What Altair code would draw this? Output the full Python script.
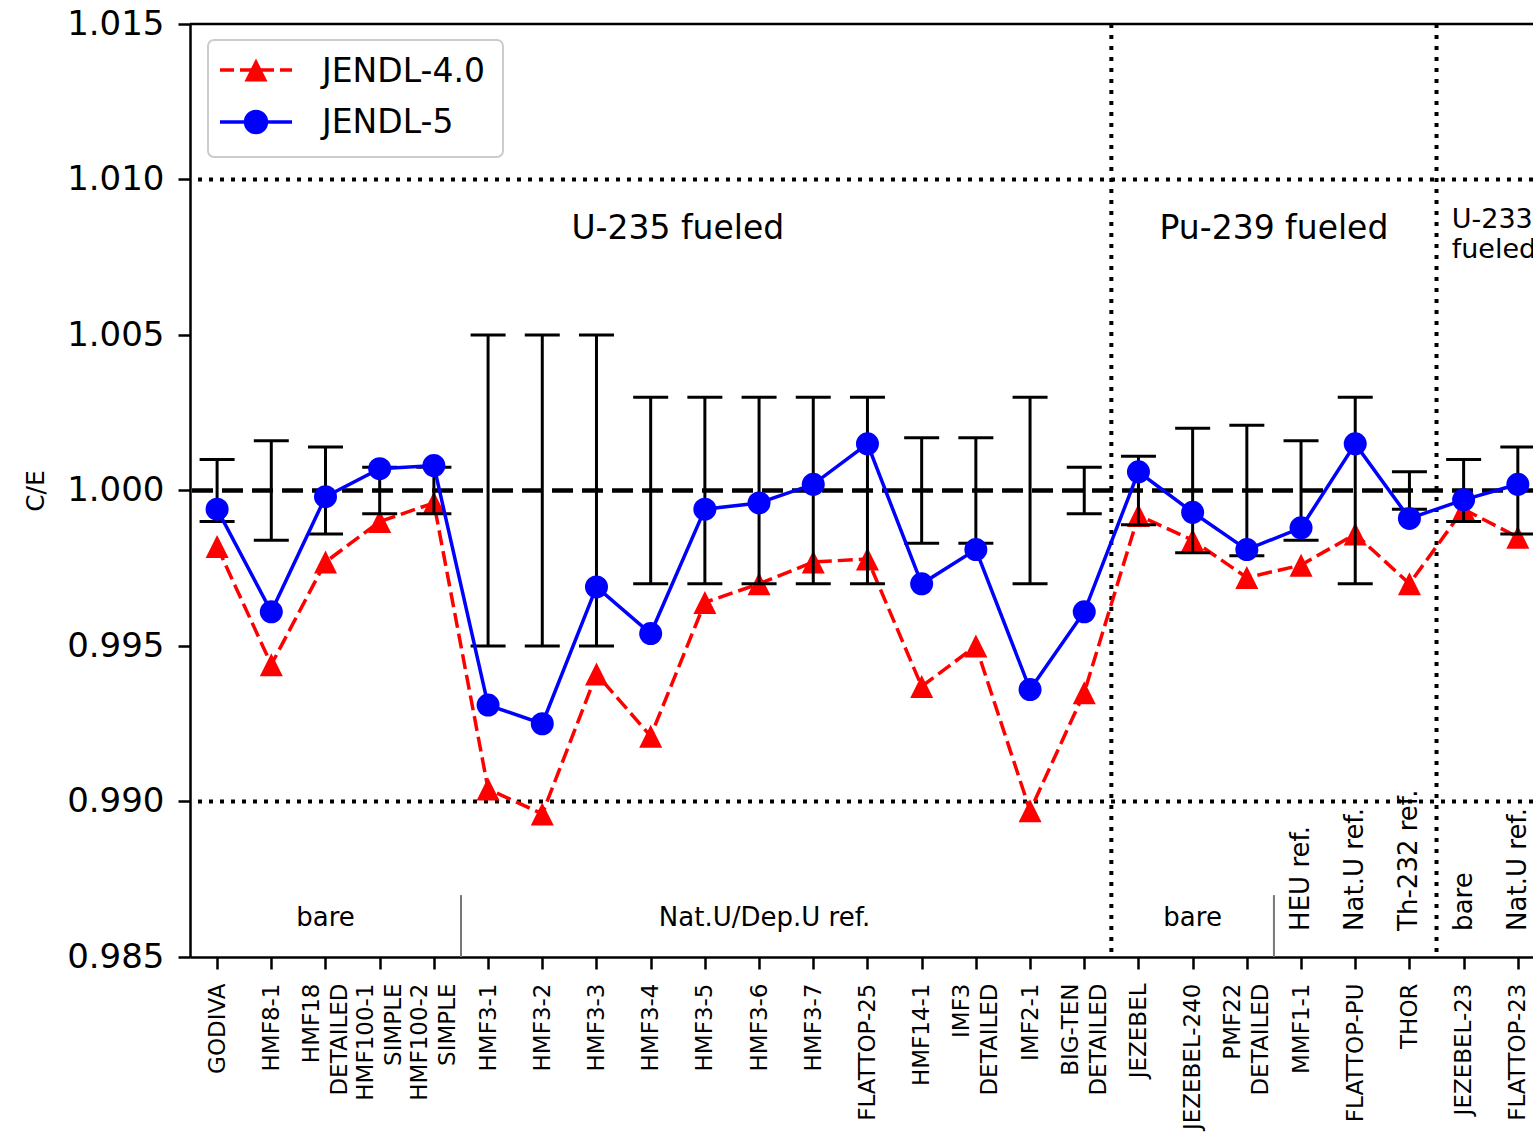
import altair as alt
import pandas as pd

# Benchmark cases (x axis), C/E values for both libraries, experimental 1-sigma
cases = [
    "GODIVA", "HMF8-1", "HMF18\nDETAILED", "HMF100-1\nSIMPLE", "HMF100-2\nSIMPLE",
    "HMF3-1", "HMF3-2", "HMF3-3", "HMF3-4", "HMF3-5", "HMF3-6", "HMF3-7",
    "FLATTOP-25", "HMF14-1", "IMF3\nDETAILED", "IMF2-1", "BIG-TEN\nDETAILED",
    "JEZEBEL", "JEZEBEL-240", "PMF22\nDETAILED", "MMF1-1", "FLATTOP-PU", "THOR",
    "JEZEBEL-23", "FLATTOP-23",
]
jendl5 = [0.9994, 0.9961, 0.9998, 1.0007, 1.0008, 0.9931, 0.9925, 0.9969, 0.9954,
          0.9994, 0.9996, 1.0002, 1.0015, 0.9970, 0.9981, 0.9936, 0.9961, 1.0006,
          0.9993, 0.9981, 0.9988, 1.0015, 0.9991, 0.9997, 1.0002]
jendl40 = [0.9982, 0.9944, 0.9977, 0.9990, 0.9996, 0.9904, 0.9896, 0.9941, 0.9921,
           0.9964, 0.9970, 0.9977, 0.9978, 0.9937, 0.9950, 0.9897, 0.9935, 0.9992,
           0.9984, 0.9972, 0.9976, 0.9986, 0.9970, 0.9994, 0.9985]
exp_unc = [0.0010, 0.0016, 0.0014, 0.00075, 0.00075, 0.0050, 0.0050, 0.0050, 0.0030,
           0.0030, 0.0030, 0.0030, 0.0030, 0.0017, 0.0017, 0.0030, 0.00075, 0.0011,
           0.0020, 0.0021, 0.0016, 0.0030, 0.0006, 0.0010, 0.0014]
series = ["JENDL-4.0", "JENDL-5"]

# Fuel-type regions and reflector sub-groups
region_names = ["U-235 fueled", "Pu-239 fueled"]
region_x = [8.5, 19.5]
region_boundaries = [16.5, 22.5]
group_names = ["bare", "Nat.U/Dep.U ref.", "bare"]
group_x = [2.0, 10.1, 18.0]
group_separators = [4.5, 19.5]
refl_names = ["HEU ref.", "Nat.U ref.", "Th-232 ref.", "bare", "Nat.U ref."]
refl_x = [20, 21, 22, 23, 24]

y_ticks = [0.985, 0.990, 0.995, 1.000, 1.005, 1.010, 1.015]

FONT = "DejaVu Sans"
W, H = 1343, 933

df = pd.DataFrame({
    "idx": list(range(len(cases))),
    "case": cases,
    "ce5": jendl5,
    "ce40": jendl40,
    "lo": [1 - u for u in exp_unc],
    "hi": [1 + u for u in exp_unc],
})

label_js = "[" + ",".join("'" + c.replace("\n", "|") + "'" for c in cases) + "]"
two_line = [i for i, c in enumerate(cases) if "\n" in c]

x_scale = alt.Scale(domain=[-0.5, 24.28], nice=False, zero=False)
y_scale = alt.Scale(domain=[0.985, 1.015], nice=False, zero=False)

x_axis = alt.Axis(
    values=list(range(len(cases))),
    labelExpr=f"split({label_js}[datum.value], '|')",
    labelAngle=270, labelAlign="right", labelBaseline="middle",
    labelFontSize=23, labelLineHeight=28, labelPadding=14,
    # two-line labels are centred on their tick
    labelOffset={"condition": {"test": f"indexof({two_line}, datum.value) >= 0",
                               "value": -14}, "value": 0},
    labelFlush=False, labelOverlap=False, labelColor="black", labelFont=FONT,
    tickSize=12, tickWidth=2.5, tickColor="black",
    domainColor="black", domainWidth=2.5, grid=False, title=None,
)
y_axis = alt.Axis(
    values=y_ticks, format=".3f",
    labelFontSize=34, labelPadding=14, labelColor="black", labelFont=FONT,
    labelFlush=False, labelOverlap=False,
    tickSize=12, tickWidth=2.5, tickColor="black",
    domainColor="black", domainWidth=2.5, grid=False,
    title="C/E", titleFontSize=25, titleFontWeight="normal", titleColor="black",
    titleFont=FONT, titlePadding=18,
)


def X(field="idx"):
    return alt.X(f"{field}:Q", scale=x_scale, axis=x_axis)


def Y(field):
    return alt.Y(f"{field}:Q", scale=y_scale, axis=y_axis)


# Reference lines
dotted = alt.Chart(pd.DataFrame({"v": [1.010, 0.990]})).mark_rule(
    color="black", strokeWidth=4, strokeDash=[4, 7]).encode(y=Y("v"))
unity = alt.Chart(pd.DataFrame({"v": [1.0]})).mark_rule(
    color="black", strokeWidth=4.5, strokeDash=[21, 9]).encode(y=Y("v"))
top_frame = alt.Chart(pd.DataFrame({"v": [1.015]})).mark_rule(
    color="black", strokeWidth=2.5).encode(y=Y("v"))
vdotted = alt.Chart(pd.DataFrame({"idx": region_boundaries})).mark_rule(
    color="black", strokeWidth=4, strokeDash=[4, 7]).encode(x=X())
separators = alt.Chart(pd.DataFrame({
    "idx": group_separators, "y0": [0.985] * 2, "y1": [0.98699] * 2,
})).mark_rule(color="#777777", strokeWidth=2).encode(x=X(), y=Y("y0"), y2="y1:Q")

# JENDL-4.0 series
red_line = alt.Chart(df).mark_line(
    color="#ff0000", strokeWidth=3.5, strokeDash=[15, 6]).encode(x=X(), y=Y("ce40"))
red_pts = alt.Chart(df).mark_point(
    shape="M0,-1L-1,1L1,1Z", filled=True, size=529, color="#ff0000", opacity=1,
    strokeWidth=0).encode(x=X(), y=Y("ce40"))

# Experimental uncertainty bars
err_rule = alt.Chart(df).mark_rule(color="black", strokeWidth=3).encode(
    x=X(), y=Y("lo"), y2="hi:Q")
err_lo = alt.Chart(df).mark_tick(orient="horizontal", size=35, thickness=3,
                                 color="black", opacity=1).encode(x=X(), y=Y("lo"))
err_hi = alt.Chart(df).mark_tick(orient="horizontal", size=35, thickness=3,
                                 color="black", opacity=1).encode(x=X(), y=Y("hi"))

# JENDL-5 series
blue_line = alt.Chart(df).mark_line(color="#0000ff", strokeWidth=3.5).encode(
    x=X(), y=Y("ce5"))
blue_pts = alt.Chart(df).mark_point(
    shape="circle", filled=True, size=529, color="#0000ff", opacity=1,
    strokeWidth=0).encode(x=X(), y=Y("ce5"))

# Region and group annotations
region_text = alt.Chart(pd.DataFrame({
    "idx": region_x, "y": [1.0084] * 2, "t": region_names,
})).mark_text(fontSize=33, align="center", baseline="middle", color="black",
              font=FONT).encode(x=X(), y=Y("y"), text="t:N")
u233_text = alt.Chart(pd.DataFrame({
    "idx": [22.78], "y": [1.0087], "t": ["U-233\nfueled"],
})).mark_text(fontSize=27, align="left", baseline="middle", color="black",
              lineBreak="\n", lineHeight=30, font=FONT).encode(
    x=X(), y=Y("y"), text="t:N")
group_text = alt.Chart(pd.DataFrame({
    "idx": group_x, "y": [0.98625] * 3, "t": group_names,
})).mark_text(fontSize=26, align="center", baseline="middle", color="black",
              font=FONT).encode(x=X(), y=Y("y"), text="t:N")
refl_text = alt.Chart(pd.DataFrame({
    "idx": refl_x, "y": [0.98584] * 5, "t": refl_names,
})).mark_text(fontSize=26, angle=270, align="left", baseline="middle",
              color="black", font=FONT).encode(x=X(), y=Y("y"), text="t:N")

# Legend box in the upper-left corner
leg_df = pd.DataFrame({"label": series})
leg_box = alt.Chart(leg_df.head(1)).mark_rect(
    fill="white", fillOpacity=0.8, stroke="#cccccc", strokeWidth=2,
    cornerRadius=6).encode(x=alt.value(18), x2=alt.value(313),
                           y=alt.value(16), y2=alt.value(133))
leg_red_line = alt.Chart(leg_df.head(1)).mark_rule(
    color="#ff0000", strokeWidth=3.5, strokeDash=[14, 6]).encode(
    x=alt.value(30), x2=alt.value(102), y=alt.value(46))
leg_red_pt = alt.Chart(leg_df.head(1)).mark_point(
    shape="M0,-1L-1,1L1,1Z", filled=True, size=529, color="#ff0000", opacity=1,
    strokeWidth=0).encode(x=alt.value(66), y=alt.value(46))
leg_red_txt = alt.Chart(leg_df.head(1)).mark_text(
    fontSize=33, align="left", baseline="middle", color="black", font=FONT).encode(
    x=alt.value(132), y=alt.value(48), text="label:N")
leg_blue_line = alt.Chart(leg_df.tail(1)).mark_rule(
    color="#0000ff", strokeWidth=3.5).encode(
    x=alt.value(30), x2=alt.value(102), y=alt.value(98))
leg_blue_pt = alt.Chart(leg_df.tail(1)).mark_point(
    shape="circle", filled=True, size=600, color="#0000ff", opacity=1,
    strokeWidth=0).encode(x=alt.value(66), y=alt.value(98))
leg_blue_txt = alt.Chart(leg_df.tail(1)).mark_text(
    fontSize=33, align="left", baseline="middle", color="black", font=FONT).encode(
    x=alt.value(132), y=alt.value(99), text="label:N")

chart = alt.layer(
    dotted, vdotted, separators, unity,
    red_line, red_pts,
    err_rule, err_lo, err_hi,
    blue_line, blue_pts,
    top_frame,
    region_text, u233_text, group_text, refl_text,
    leg_box, leg_red_line, leg_red_pt, leg_red_txt,
    leg_blue_line, leg_blue_pt, leg_blue_txt,
).properties(
    width=W, height=H,
    autosize=alt.AutoSizeParams(type="none"),
    padding={"left": 190, "top": 24, "right": 0, "bottom": 179},
    background="white",
).configure_view(strokeWidth=0).configure(font=FONT)

chart.save("out.html", embed_options={"renderer": "svg", "actions": False})
